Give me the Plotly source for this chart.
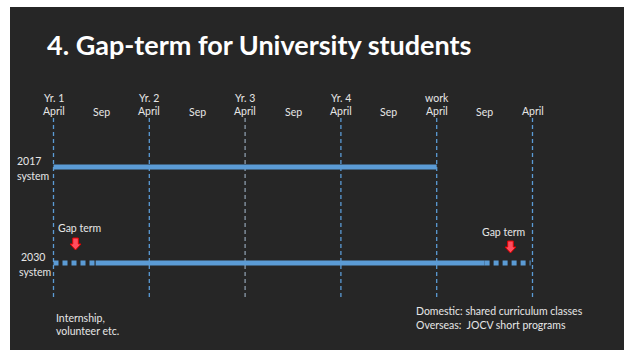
import plotly.graph_objects as go

# ---- data ----
title_text = "4. Gap-term for University students"
april_pos = [0, 1, 2, 3, 4, 5]
april_top = ["Yr. 1", "Yr. 2", "Yr. 3", "Yr. 4", "work", ""]
april_label = ["April", "April", "April", "April", "April", "April"]
sep_pos = [0.5, 1.5, 2.5, 3.5, 4.5]
sep_label = ["Sep", "Sep", "Sep", "Sep", "Sep"]

sys2017_span = [0, 4]
sys2030_gap1 = [0, 0.44]
sys2030_study = [0.44, 4.5]
sys2030_gap2 = [4.5, 4.98]
gap_arrow_x = [0.23, 4.77]
gap_label = "Gap term"

BLUE = "#5b9bd5"
BG = "#262626"
TXT = "#e6e6e6"
FONT = "Lato"

# pixel mapping for layout (x: years, y: pixel rows)
X0, XS = 53.5, 95.8
xr = [-X0 / XS, (632 - X0) / XS]

fig = go.Figure()

# vertical dashed guide lines
for i, xp in enumerate(april_pos):
    col = "#8a9aab" if i == 2 else BLUE
    fig.add_trace(go.Scatter(x=[xp, xp], y=[118, 300], mode="lines",
                             line=dict(color=col, width=1.3, dash="4px,3px"),
                             hoverinfo="skip", showlegend=False))

Y17, Y30 = 167, 263
# 2017 system
fig.add_trace(go.Scatter(x=sys2017_span, y=[Y17, Y17], mode="lines",
                         line=dict(color=BLUE, width=5), showlegend=False))
# 2030 system
fig.add_trace(go.Scatter(x=sys2030_gap1, y=[Y30, Y30], mode="lines",
                         line=dict(color=BLUE, width=5, dash="5px,4px"), showlegend=False))
fig.add_trace(go.Scatter(x=sys2030_study, y=[Y30, Y30], mode="lines",
                         line=dict(color=BLUE, width=5), showlegend=False))
fig.add_trace(go.Scatter(x=sys2030_gap2, y=[Y30, Y30], mode="lines",
                         line=dict(color=BLUE, width=5, dash="5px,4px"), showlegend=False))

ann = []
def txt(x, y, t, size=10.5, xanchor="center", xref="x", align="center"):
    ann.append(dict(x=x, y=y, xref=xref, yref="y", text=t, showarrow=False,
                    xanchor=xanchor, yanchor="middle", align=align,
                    font=dict(family=FONT, size=size, color=TXT)))

for xp, t1, t2 in zip(april_pos, april_top, april_label):
    if t1:
        txt(xp, 98, t1)
    txt(xp, 111, t2)
for xp, t in zip(sep_pos, sep_label):
    txt(xp, 112, t)

px = lambda p: (p - X0) / XS
txt(px(15), 161, "2017", xanchor="left")
txt(px(15), 176, "system", xanchor="left")
txt(px(19), 257, "2030", xanchor="left")
txt(px(17), 272, "system", xanchor="left")

txt(px(79), 228, gap_label)
txt(px(503), 232, gap_label)

txt(0, 318, "Internship,", xanchor="left")
txt(0, 331, "volunteer etc.", xanchor="left")
txt(px(414), 311, "Domestic: shared curriculum classes", xanchor="left")
txt(px(414), 325, "Overseas:  JOCV short programs", xanchor="left")

ann.append(dict(x=px(45), y=44, xref="x", yref="y", text="<b>" + title_text + "</b>",
                showarrow=False, xanchor="left", yanchor="middle",
                font=dict(family=FONT, size=27, color="#ffffff")))

shapes = [dict(type="rect", xref="paper", yref="paper", x0=10/632, x1=624/632,
               y0=0, y1=1 - 7/350, fillcolor=BG, line=dict(width=0), layer="below")]

# red block arrows
w = 5.5 / XS; sw = 2.8 / XS
for i, ax in enumerate(gap_arrow_x):
    ytop = 238 if i == 0 else 241
    path = (f"M {ax-sw},{ytop} L {ax+sw},{ytop} L {ax+sw},{ytop+6} L {ax+w},{ytop+6} "
            f"L {ax},{ytop+12} L {ax-w},{ytop+6} L {ax-sw},{ytop+6} Z")
    shapes.append(dict(type="path", xref="x", yref="y", path=path,
                       fillcolor="#ff4d5e", line=dict(color="#e00000", width=1)))

fig.update_layout(
    width=632, height=350, margin=dict(l=0, r=0, t=0, b=0),
    paper_bgcolor="white", plot_bgcolor="rgba(0,0,0,0)",
    xaxis=dict(range=xr, visible=False, fixedrange=True),
    yaxis=dict(range=[350, 0], visible=False, fixedrange=True),
    annotations=ann, shapes=shapes, showlegend=False,
)

fig.write_html("out.html")
